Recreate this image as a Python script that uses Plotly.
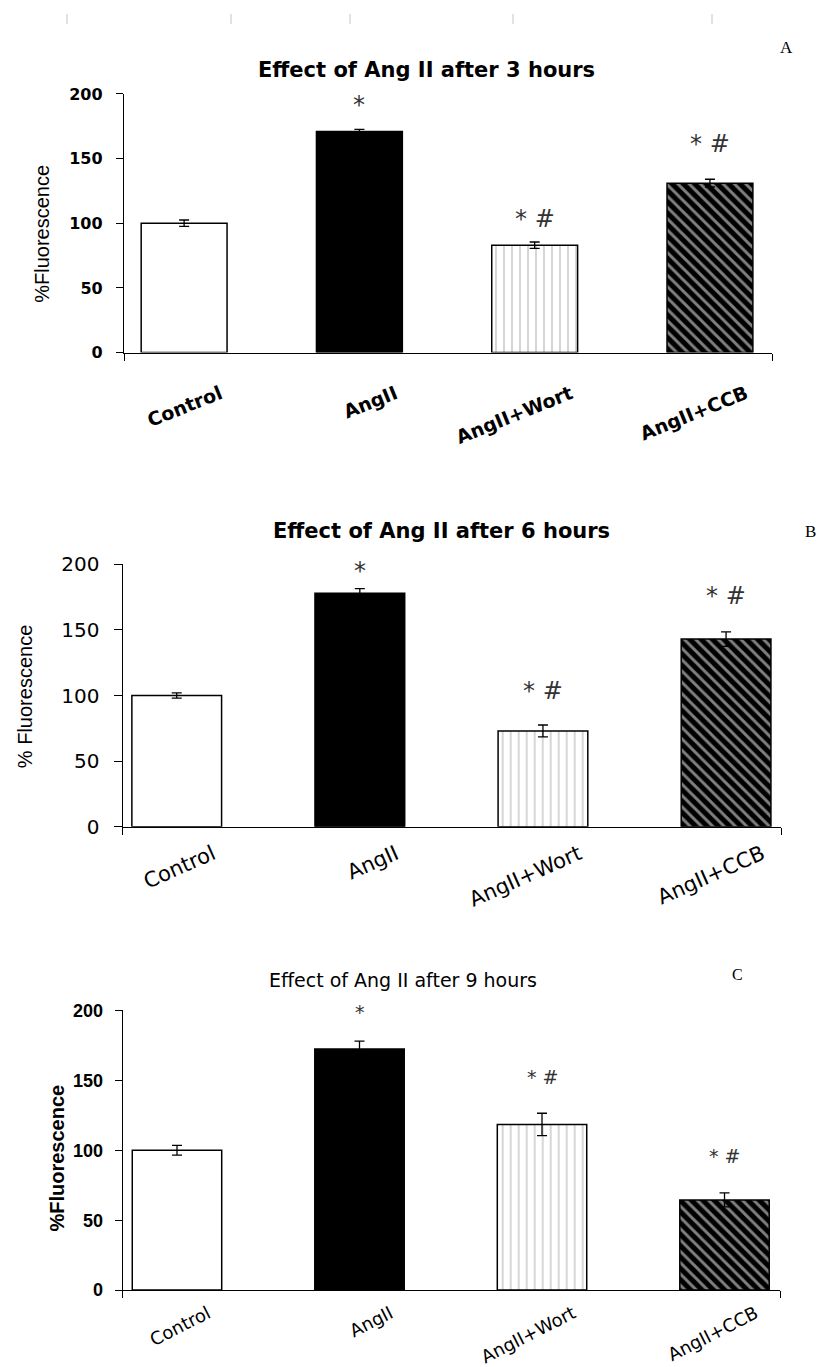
import plotly.graph_objects as go

# ---------------- data ----------------
categories = ["Control", "AngII", "AngII+Wort", "AngII+CCB"]
panel_titles = ["Effect of Ang II after 3 hours",
                "Effect of Ang II after 6 hours",
                "Effect of Ang II after 9 hours"]
panel_letters = ["A", "B", "C"]
y_titles = ["%Fluorescence", "% Fluorescence", "%Fluorescence"]

values_3h = [100, 171, 83, 131]
errors_3h = [2.5, 1.5, 2.5, 3]
values_6h = [100, 178, 73, 143]
errors_6h = [2, 3.5, 4.5, 5.5]
values_9h = [100, 172.5, 118.5, 64.5]
errors_9h = [3.5, 5.5, 8, 5]

sig_labels = ["", "*", "* #", "* #"]
sig_y_3h = [None, 193, 105, 163]
sig_y_6h = [None, 196.5, 105, 177.5]
sig_y_9h = [None, 200, 153.5, 97.5]

y_tick_vals = [0, 50, 100, 150, 200]
y_range = [0, 200]

# ---------------- layout / style ----------------
W, H = 821, 1367
# vertical placement helper (pixel rows measured on the reference picture,
# corrected for the small vertical offset/scale of the captured page)
V_SCALE, V_OFFSET = 0.98, 12.0
px_x = lambda v: v / W
px_y = lambda v: 1 - ((v - V_OFFSET) / V_SCALE) / H

panels = [
    dict(values=values_3h, errors=errors_3h, sig_y=sig_y_3h, sig_size=24,
         xdom=[px_x(124), px_x(772)], ydom=[px_y(353), px_y(94)],
         xrange=[-0.343, 3.354],
         tickfont=dict(family="DejaVu Sans", size=16, color="black", weight="bold"),
         xfont=dict(family="DejaVu Sans", size=19, color="black", weight="bold"),
         xangle=-22, xshift=36, xstand=22, ylen=7, ystand=10,
         title_font=dict(family="DejaVu Sans", size=21, color="black", weight="bold"),
         title_pos=(px_x(427), px_y(70)),
         ytitle_font=dict(family="Liberation Sans", size=20, color="black"),
         ytitle_pos=(px_x(42), px_y(234)),
         letter_pos=(px_x(786), px_y(48)), letter_size=17),
    dict(values=values_6h, errors=errors_6h, sig_y=sig_y_6h, sig_size=24,
         xdom=[px_x(122.7), px_x(781)], ydom=[px_y(827.7), px_y(565)],
         xrange=[-0.295, 3.30],
         tickfont=dict(family="DejaVu Sans", size=20, color="black"),
         xfont=dict(family="DejaVu Sans", size=21, color="black"),
         xangle=-24, xshift=36, xstand=6, ylen=8, ystand=10,
         title_font=dict(family="DejaVu Sans", size=21, color="black", weight="bold"),
         title_pos=(px_x(441), px_y(532)),
         ytitle_font=dict(family="Liberation Sans", size=20, color="black"),
         ytitle_pos=(px_x(25), px_y(698)),
         letter_pos=(px_x(810), px_y(532)), letter_size=17),
    dict(values=values_9h, errors=errors_9h, sig_y=sig_y_9h, sig_size=19,
         xdom=[px_x(122.7), px_x(780)], ydom=[px_y(1291.7), px_y(1011.7)],
         xrange=[-0.2975, 3.304],
         tickfont=dict(family="Liberation Sans", size=18, color="black", weight="bold"),
         xfont=dict(family="DejaVu Sans", size=18, color="black"),
         xangle=-27, xshift=31, xstand=5, ylen=7, ystand=8,
         title_font=dict(family="DejaVu Sans", size=19, color="black"),
         title_pos=(px_x(403), px_y(981)),
         ytitle_font=dict(family="Liberation Sans", size=20, color="black", weight="bold"),
         ytitle_pos=(px_x(57), px_y(1160)),
         letter_pos=(px_x(737), px_y(976)), letter_size=16),
]

bar_colors = ["white", "black", "white", "black"]
pattern_shapes = ["", "", "|", "\\"]
pattern_fg = ["black", "black", "#111111", "white"]
pattern_bg = ["white", "black", "white", "black"]
pattern_size = [8, 8, 8, 8]
pattern_solidity = [0.5, 0.5, 0.11, 0.36]

fig = go.Figure()
annotations = []

for i, p in enumerate(panels):
    n = "" if i == 0 else str(i + 1)
    xa, ya = "x" + n, "y" + n
    x_idx = list(range(len(categories)))

    fig.add_trace(go.Bar(
        x=x_idx, y=p["values"], width=0.49,
        marker=dict(color=bar_colors,
                    line=dict(color="black", width=1.5),
                    pattern=dict(shape=pattern_shapes, fgcolor=pattern_fg,
                                 bgcolor=pattern_bg, size=pattern_size,
                                 solidity=pattern_solidity)),
        error_y=dict(type="data", array=p["errors"], visible=True,
                     color="black", thickness=1.3, width=5),
        xaxis=xa, yaxis=ya, showlegend=False, hoverinfo="y"))

    # significance markers
    for xi, lab, sy in zip(x_idx, sig_labels, p["sig_y"]):
        if not lab:
            continue
        annotations.append(dict(text=lab, xref=xa, yref=ya, x=xi, y=sy,
                                xanchor="center", yanchor="middle", yshift=-2,
                                showarrow=False,
                                font=dict(family="DejaVu Sans", size=p["sig_size"],
                                          color="#333333")))

    xaxis = dict(domain=p["xdom"], anchor=ya, range=p["xrange"],
                 tickmode="array", tickvals=x_idx, ticktext=categories,
                 ticks="", showline=True, linecolor="black", linewidth=1.3,
                 showgrid=False, zeroline=False,
                 tickangle=p["xangle"], tickfont=p["xfont"],
                 ticklabelshift=p["xshift"], ticklabelstandoff=p["xstand"],
                 minor=dict(tickmode="array", tickvals=p["xrange"], ticks="outside",
                            ticklen=7, tickwidth=1.3, tickcolor="black"),
                 fixedrange=True)
    yaxis = dict(domain=p["ydom"], anchor=xa, range=y_range,
                 tickmode="array", tickvals=y_tick_vals,
                 ticks="outside", ticklen=p["ylen"], tickwidth=1.3, tickcolor="black",
                 showline=True, linecolor="black", linewidth=1.3,
                 showgrid=False, zeroline=False, tickfont=p["tickfont"],
                 ticklabelstandoff=p["ystand"], fixedrange=True)
    fig.layout["xaxis" + n] = xaxis
    fig.layout["yaxis" + n] = yaxis

    annotations.append(dict(text=panel_titles[i], xref="paper", yref="paper",
                            x=p["title_pos"][0], y=p["title_pos"][1],
                            xanchor="center", yanchor="middle", showarrow=False,
                            font=p["title_font"]))
    annotations.append(dict(text=y_titles[i], xref="paper", yref="paper",
                            x=p["ytitle_pos"][0], y=p["ytitle_pos"][1], textangle=-90,
                            xanchor="center", yanchor="middle", showarrow=False,
                            font=p["ytitle_font"]))
    annotations.append(dict(text=panel_letters[i], xref="paper", yref="paper",
                            x=p["letter_pos"][0], y=p["letter_pos"][1],
                            xanchor="center", yanchor="middle", showarrow=False,
                            font=dict(family="Liberation Serif", size=p["letter_size"],
                                      color="black")))

# faint ruler marks at the top of the page
ruler_x = [67, 231, 350, 513, 712]
shapes = [dict(type="line", xref="paper", yref="paper", x0=px_x(v), x1=px_x(v),
               y0=px_y(14), y1=px_y(24), line=dict(color="#c4c4c4", width=1))
          for v in ruler_x]

fig.update_layout(width=W, height=H, margin=dict(l=0, r=0, t=0, b=0),
                  paper_bgcolor="white", plot_bgcolor="white",
                  annotations=annotations, shapes=shapes, bargap=0.5)

fig.write_html("out.html")
